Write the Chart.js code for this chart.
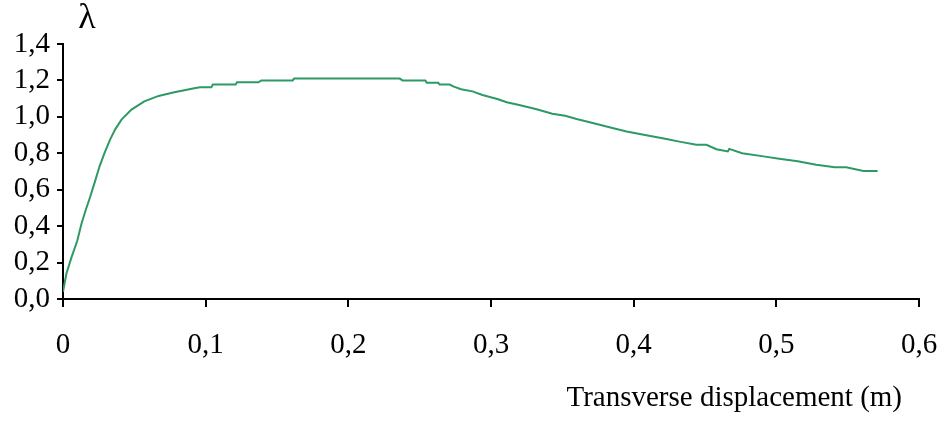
<!DOCTYPE html>
<html>
<head>
<meta charset="utf-8">
<script src="https://cdn.jsdelivr.net/npm/chart.js@4/dist/chart.umd.min.js"></script>
<style>
  html, body { margin: 0; padding: 0; background: #ffffff; }
  #wrap { width: 946px; height: 424px; }
</style>
</head>
<body>
<div id="wrap"><canvas id="chart" width="946" height="424"></canvas></div>
<script>
// --- DATA ---
const displacement = [0, 0.0024, 0.006, 0.010, 0.013, 0.016, 0.019, 0.022, 0.0257, 0.029,
  0.033, 0.0365, 0.041, 0.048, 0.057, 0.067, 0.078, 0.092, 0.096, 0.104,
  0.105, 0.121, 0.122, 0.137, 0.139, 0.161, 0.162, 0.236, 0.238, 0.254,
  0.255, 0.263, 0.264, 0.271, 0.274, 0.279, 0.287, 0.294, 0.305, 0.311,
  0.319, 0.332, 0.343, 0.352, 0.360, 0.372, 0.383, 0.395, 0.407, 0.423,
  0.432, 0.444, 0.451, 0.458, 0.466, 0.467, 0.476, 0.491, 0.502, 0.515,
  0.528, 0.541, 0.549, 0.561, 0.571];

const lambda = [0.04, 0.14, 0.23, 0.32, 0.415, 0.49, 0.56, 0.635, 0.73, 0.80,
  0.875, 0.93, 0.985, 1.04, 1.085, 1.115, 1.135, 1.157, 1.162, 1.162,
  1.177, 1.177, 1.19, 1.19, 1.20, 1.20, 1.21, 1.21, 1.20, 1.20,
  1.187, 1.187, 1.177, 1.177, 1.166, 1.152, 1.14, 1.12, 1.097, 1.08,
  1.066, 1.042, 1.017, 1.006, 0.988, 0.965, 0.943, 0.92, 0.902, 0.878,
  0.864, 0.847, 0.847, 0.822, 0.81, 0.824, 0.80, 0.783, 0.77, 0.756,
  0.737, 0.724, 0.723, 0.703, 0.703];

const xTickLabels = ['0', '0,1', '0,2', '0,3', '0,4', '0,5', '0,6'];
const yTickLabels = ['0,0', '0,2', '0,4', '0,6', '0,8', '1,0', '1,2', '1,4'];

const xTitle = 'Transverse displacement (m)';
const yTitle = 'λ';

// --- styles ---
const LINE_GREEN = '#2e9a63';
const FONT = '"Liberation Serif", "Times New Roman", serif';

// titles drawn by hand so they sit where the original has them
const axisTitles = {
  id: 'axisTitles',
  afterDraw(chart) {
    const ctx = chart.ctx;
    const area = chart.chartArea;
    ctx.save();
    ctx.fillStyle = '#000000';
    ctx.font = '36px ' + FONT;
    ctx.textAlign = 'center';
    ctx.textBaseline = 'middle';
    ctx.fillText(yTitle, area.left + 24, 19);
    ctx.font = '29px ' + FONT;
    ctx.textAlign = 'right';
    ctx.textBaseline = 'alphabetic';
    ctx.fillText(xTitle, area.right - 17, 406);
    ctx.restore();
  }
};

const points = displacement.map((d, i) => ({ x: d, y: lambda[i] }));

new Chart(document.getElementById('chart').getContext('2d'), {
  type: 'line',
  data: {
    datasets: [{
      data: points,
      borderColor: LINE_GREEN,
      borderWidth: 2,
      pointRadius: 0,
      tension: 0,
      fill: false
    }]
  },
  options: {
    responsive: false,
    animation: false,
    layout: { padding: { top: 44, right: 27, left: 0, bottom: 0 } },
    plugins: {
      legend: { display: false },
      tooltip: { enabled: false }
    },
    scales: {
      x: {
        type: 'linear',
        min: 0,
        max: 0.6,
        // fixed axis box; label overhang is covered by layout padding
        afterFit: s => { s.height = 125; s.paddingLeft = 0; s.paddingRight = 0; },
        border: { display: true, color: '#000000', width: 2 },
        grid: { drawOnChartArea: false, drawTicks: true, tickLength: 8, color: '#000000', lineWidth: 2 },
        ticks: {
          stepSize: 0.1,
          autoSkip: false,
          padding: 21,
          color: '#000000',
          maxRotation: 0,
          font: { family: FONT, size: 29 },
          callback: (v, i) => xTickLabels[i]
        }
      },
      y: {
        min: 0,
        max: 1.4,
        afterFit: s => { s.width = 63; s.paddingTop = 0; s.paddingBottom = 0; },
        border: { display: true, color: '#000000', width: 2 },
        grid: { drawOnChartArea: false, drawTicks: true, tickLength: 6, color: '#000000', lineWidth: 2 },
        ticks: {
          stepSize: 0.2,
          autoSkip: false,
          padding: 7,
          color: '#000000',
          font: { family: FONT, size: 29 },
          callback: (v, i) => yTickLabels[i]
        }
      }
    }
  },
  plugins: [axisTitles]
});
</script>
</body>
</html>
